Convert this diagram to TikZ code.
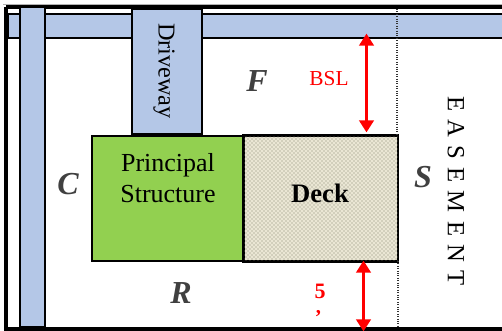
\documentclass[tikz,border=0pt]{standalone}
\usepackage{fontspec}
\setmainfont{Liberation Serif}
\usetikzlibrary{arrows.meta,patterns}
\definecolor{roadblue}{HTML}{B4C7E7}
\definecolor{housegreen}{HTML}{92D050}
\definecolor{deckbase}{HTML}{EAE6D4}
\definecolor{deckdots}{HTML}{86836E}
\tikzset{
    road/.style={shape=rectangle, draw=black, fill=roadblue, line width=1.2pt, inner sep=0pt, anchor=north west},
    building/.style={shape=rectangle, draw=black, line width=1.2pt, inner sep=0pt, anchor=north west, align=center},
    sideletter/.style={font=\fontsize{24}{24}\selectfont\bfseries\itshape, text=black!75},
    setback/.style={<->, >={Triangle[length=9pt,width=11pt]}, red, line width=1.8pt, shorten <=-1pt, shorten >=-1pt}
}
\begin{document}
\begin{tikzpicture}[x=0.75pt, y=-0.75pt]
    \useasboundingbox (0,0) rectangle (502,331);
    \begin{scope}
        \path [fill=white] (0,0) rectangle (502,331);
        \draw[black!30, line width=0.8pt] (3,4.5) -- (502,4.5);
        \draw[black, line width=2.6pt] (6,7) -- (502,7);
        \draw[black, line width=2.6pt] (6,7) -- (6,329) -- (502,329);
    \end{scope}
    \node[road, minimum width=372.75pt, minimum height=18pt] (frontroad) at (7,13) {};
    \node[road, minimum width=18.75pt, minimum height=240pt] (sideroad) at (19,6) {};
    \node[road, minimum width=52.5pt, minimum height=94pt] (driveway) at (131,8) {};
    \node[rotate=-90, font=\fontsize{18.2}{18.2}\selectfont] (drivewaylabel) at (164,71) {Driveway};
    \node[building, fill=housegreen, minimum width=114pt, minimum height=94pt] (principal) at (91,135) {};
    \node[building, fill=deckbase, minimum width=115.5pt, minimum height=94pt] (deck) at (243,135) {};
    \fill[pattern=crosshatch dots, pattern color=deckdots] ([shift={(0.6pt,0.6pt)}]deck.north west) rectangle ([shift={(-0.6pt,-0.6pt)}]deck.south east);
    \draw[black, line width=1.2pt] (deck.north west) rectangle (deck.south east);
    \node[align=center, font=\fontsize{19.5}{23.5}\selectfont] (principallabel) at (168,178) {Principal\\Structure};
    \node[font=\fontsize{20}{20}\selectfont\bfseries] (decklabel) at (320,193) {Deck};
    \draw[black!80, densely dotted, line width=0.8pt] (397,9) -- (397,135) (398,261) -- (398,328);
    \node[rotate=-90, font=\fontsize{18.5}{18.5}\selectfont] (easement) at (456,191) {E\,\,A\,\,S\,\,E\,\,M\,\,E\,\,N\,\,T};
    \node[sideletter] (front) at (257,81) {F};
    \node[sideletter] (corner) at (68,184) {C};
    \node[sideletter] (right) at (181,293) {R};
    \node[sideletter] (side) at (423,177) {S};
    \node[red, font=\fontsize{16}{16}\selectfont] (bsl) at (329,79) {BSL};
    \node[red, font=\fontsize{16.5}{16.5}\selectfont\bfseries, inner sep=0pt] (five) at (320,291) {5};
    \node[red, font=\fontsize{15.5}{15.5}\selectfont\bfseries, inner sep=0pt] (fivetick) at (318.5,314) {,};
    \coordinate (bsltop) at (366.5,35);
    \coordinate (bslbottom) at (366.5,131);
    \coordinate (reartop) at (363.5,262);
    \coordinate (rearbottom) at (363.5,330);
    \draw[setback] (bsltop) -- (bslbottom);
    \draw[setback] (reartop) -- (rearbottom);
\end{tikzpicture}
\end{document}
